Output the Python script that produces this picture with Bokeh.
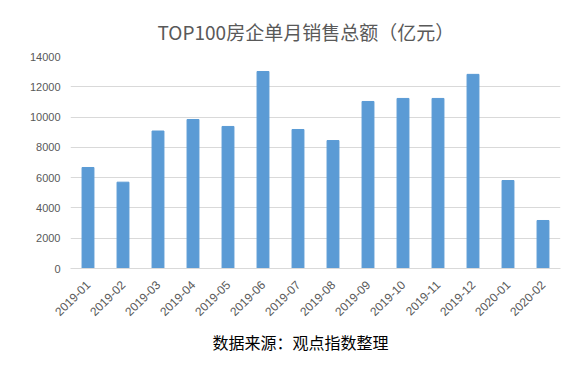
from bokeh.plotting import figure
from bokeh.models import ColumnDataSource, Title, Range1d, FixedTicker
from bokeh.embed import file_html
from bokeh.resources import INLINE
import math

months = ["2019-01", "2019-02", "2019-03", "2019-04", "2019-05", "2019-06", "2019-07",
          "2019-08", "2019-09", "2019-10", "2019-11", "2019-12", "2020-01", "2020-02"]
sales = [6670, 5700, 9080, 9840, 9380, 13010, 9180, 8450, 11030, 11230, 11230, 12820, 5810, 3170]
y_ticks = [0, 2000, 4000, 6000, 8000, 10000, 12000, 14000]

src = ColumnDataSource(dict(m=months, v=sales))

p = figure(x_range=months, width=577, height=358, output_backend="svg", toolbar_location=None,
           min_border_left=70, min_border_right=17, min_border_top=56, min_border_bottom=90)
p.y_range = Range1d(0, 14000)
p.vbar(x="m", top="v", width=0.34, source=src, color="#5B9BD5")

p.title = Title(text="TOP100房企单月销售总额（亿元）", align="left",
                text_font="Noto Sans CJK SC", text_font_size="19px",
                text_color="#595959", text_font_style="normal", standoff=24, offset=87)
p.add_layout(Title(text="数据来源：观点指数整理", align="left", text_font="Noto Sans CJK SC",
                   text_font_size="16px", text_color="#000000", text_font_style="normal",
                   standoff=8, offset=142), "below")

p.outline_line_color = None
p.xgrid.grid_line_color = None
p.ygrid.grid_line_color = "#D9D9D9"
p.yaxis.ticker = FixedTicker(ticks=y_ticks)
p.yaxis.axis_line_color = None
p.yaxis.major_tick_line_color = None
p.yaxis.minor_tick_line_color = None
p.yaxis.major_label_text_font_size = "11px"
p.yaxis.major_label_text_color = "#595959"
p.yaxis.major_label_text_font = "Liberation Sans"
p.yaxis.major_label_standoff = 4

p.xaxis.axis_line_color = "#D9D9D9"
p.xaxis.major_tick_line_color = None
p.xaxis.minor_tick_line_color = None
p.xaxis.major_label_orientation = math.pi / 4
p.xaxis.major_label_text_font_size = "12px"
p.xaxis.major_label_text_color = "#595959"
p.xaxis.major_label_text_font = "Liberation Sans"
p.xaxis.major_label_standoff = 8
p.x_range.range_padding = 0

open("out.html", "w").write(file_html(p, INLINE))
